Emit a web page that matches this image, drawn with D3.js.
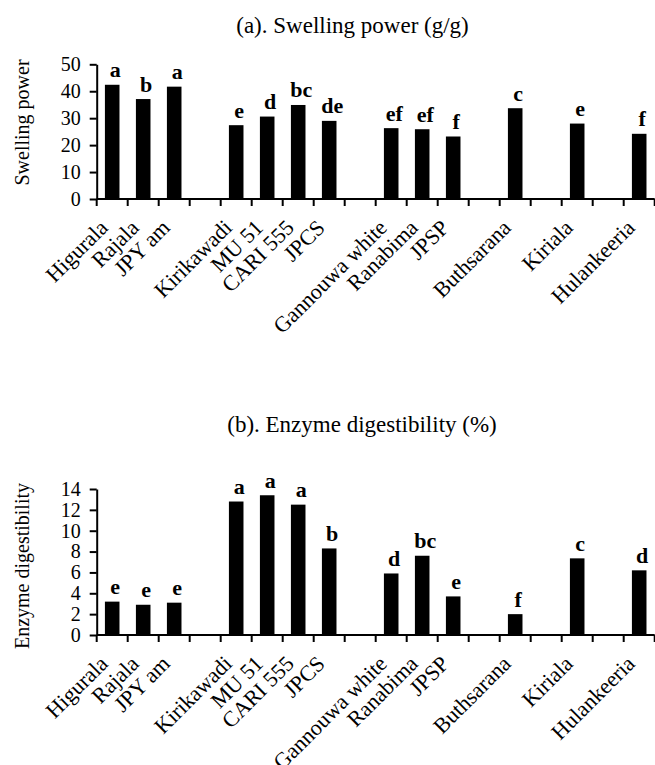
<!DOCTYPE html>
<html>
<head>
<meta charset="utf-8">
<script src="https://cdn.jsdelivr.net/npm/d3@7"></script>
<style>
  html, body { margin: 0; padding: 0; background: #fff; }
  svg { display: block; font-family: "Liberation Serif", "Times New Roman", serif; }
</style>
</head>
<body>
<div id="chart"></div>
<script>
// ---- data ----
const categories = ["Higurala", "Rajala", "JPY am", "", "Kirikawadi", "MU 51", "CARI 555", "JPCS", "",
  "Gannouwa white", "Ranabima", "JPSP", "", "Buthsarana", "", "Kiriala", "", "Hulankeeria"];
const swellingPower = [42.4, 37.1, 41.7, null, 27.4, 30.6, 34.9, 29.0, null,
  26.3, 25.9, 23.2, null, 33.7, null, 28.0, null, 24.2];
const swellingLetters = ["a", "b", "a", "", "e", "d", "bc", "de", "",
  "ef", "ef", "f", "", "c", "", "e", "", "f"];
const digestibility = [3.2, 2.9, 3.1, null, 12.8, 13.4, 12.5, 8.3, null,
  5.9, 7.6, 3.7, null, 2.0, null, 7.35, null, 6.2];
const digestLetters = ["e", "e", "e", "", "a", "a", "a", "b", "",
  "d", "bc", "e", "", "f", "", "c", "", "d"];
const swellingTicks = [0, 10, 20, 30, 40, 50];
const digestTicks = [0, 2, 4, 6, 8, 10, 12, 14];

const W = 655, H = 765;
const svg = d3.select("#chart").append("svg").attr("width", W).attr("height", H);

const idx = categories.map((d, i) => i);
const pad = 0.53;
const x = d3.scaleBand().domain(idx).range([96.7, 654.7]).paddingInner(pad).paddingOuter(pad / 2);

function panel(cfg) {
  const g = svg.append("g");
  const y = d3.scaleLinear().domain(cfg.domain).range([cfg.y0, cfg.y1]);

  // title
  g.append("text").attr("x", cfg.titleX).attr("y", cfg.titleY)
    .attr("text-anchor", "middle").style("font-size", "23px").text(cfg.title);

  // y label
  g.append("text")
    .attr("transform", `translate(29,${cfg.labelY}) rotate(-90)`)
    .attr("text-anchor", "middle").style("font-size", "20px").text(cfg.ylabel);

  // bars
  g.selectAll("rect.bar").data(cfg.values.map((v, i) => ({ v, i })).filter(d => d.v != null))
    .join("rect").attr("class", "bar")
    .attr("x", d => x(d.i)).attr("width", x.bandwidth())
    .attr("y", d => y(d.v)).attr("height", d => y(0) - y(d.v))
    .attr("fill", "#000");

  // significance letters
  g.selectAll("text.sig").data(cfg.values.map((v, i) => ({ v, i, l: cfg.letters[i] })).filter(d => d.v != null))
    .join("text").attr("class", "sig")
    .attr("x", d => x(d.i) + x.bandwidth() / 2 + 3)
    .attr("y", d => y(d.v) - 7.5)
    .attr("text-anchor", "middle")
    .style("font-size", "22px").style("font-weight", "bold")
    .text(d => d.l);

  // y axis
  const yAxis = d3.axisLeft(y).tickValues(cfg.ticks).tickSize(7).tickPadding(9).tickSizeOuter(0);
  const ya = g.append("g").attr("transform", `translate(${x.range()[0]},0)`).call(yAxis);
  ya.select(".domain").attr("stroke-width", 2);
  ya.selectAll(".tick line").attr("stroke-width", 2);
  ya.selectAll(".tick text").style("font-size", "20px").style("font-family", "Liberation Serif, serif").attr("fill", "#000");

  // x axis line with ticks at slot boundaries
  const step = x.step();
  const bounds = d3.range(categories.length + 1).map(i => x(0) - step * pad / 2 + i * step);
  g.append("line").attr("x1", x.range()[0]).attr("x2", x.range()[1])
    .attr("y1", y(0)).attr("y2", y(0)).attr("stroke", "#000").attr("stroke-width", 2);
  g.selectAll("line.xt").data(bounds).join("line").attr("class", "xt")
    .attr("x1", d => d).attr("x2", d => d)
    .attr("y1", y(0)).attr("y2", y(0) + 7).attr("stroke", "#000").attr("stroke-width", 2);

  // category labels
  g.selectAll("text.cat").data(idx.filter(i => categories[i] !== ""))
    .join("text").attr("class", "cat")
    .attr("transform", i => `translate(${x(i) + x.bandwidth() / 2 - 3},${y(0) + 30}) rotate(-45)`)
    .attr("text-anchor", "end")
    .style("font-size", "22px")
    .text(i => categories[i]);
}

panel({
  title: "(a). Swelling power (g/g)", titleX: 352.5, titleY: 33,
  ylabel: "Swelling power", labelY: 122.5,
  domain: [0, 50], y0: 199, y1: 64.3, ticks: swellingTicks,
  values: swellingPower, letters: swellingLetters
});
panel({
  title: "(b). Enzyme digestibility (%)", titleX: 362, titleY: 432,
  ylabel: "Enzyme digestibility", labelY: 566,
  domain: [0, 14], y0: 635, y1: 489, ticks: digestTicks,
  values: digestibility, letters: digestLetters
});
</script>
</body>
</html>
